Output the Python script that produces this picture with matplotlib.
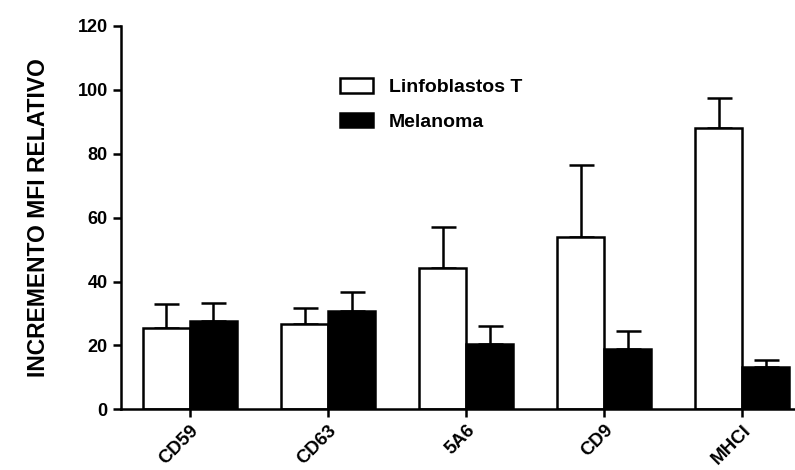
import numpy as np
import matplotlib.pyplot as plt

plt.rcParams['font.family'] = ['Liberation Sans', 'DejaVu Sans']

# datos
categorias = ['CD59', 'CD63', '5A6', 'CD9', 'MHCI']
linfoblastos = [25.5, 26.8, 44.1, 53.8, 88.0]
linfoblastos_err = [7.4, 4.9, 13.0, 22.8, 9.4]
melanoma = [27.6, 30.7, 20.5, 18.8, 13.2]
melanoma_err = [5.7, 6.1, 5.7, 5.6, 2.3]

fig = plt.figure(figsize=(7.95, 4.70), dpi=100)
ax = fig.add_axes([0.152, 0.129, 0.86, 0.816])

x = np.arange(len(categorias))
ancho = 0.34
lw = 1.8

ax.bar(x - ancho / 2, linfoblastos, ancho, color='white', edgecolor='black',
       linewidth=lw, label='Linfoblastos T', zorder=2)
ax.errorbar(x - ancho / 2, linfoblastos, yerr=[np.zeros(5), linfoblastos_err],
            fmt='none', ecolor='black', elinewidth=lw, capsize=9, capthick=lw, zorder=1)
ax.bar(x + ancho / 2, melanoma, ancho, color='black', edgecolor='black',
       linewidth=lw, label='Melanoma', zorder=2)
ax.errorbar(x + ancho / 2, melanoma, yerr=[np.zeros(5), melanoma_err],
            fmt='none', ecolor='black', elinewidth=lw, capsize=9, capthick=lw, zorder=1)

ax.set_xlim(-0.5, 4.45)
ax.set_ylim(0, 120)
ax.set_yticks(range(0, 121, 20))
ax.set_xticks(x)
ax.set_xticklabels(categorias, rotation=45, ha='right', rotation_mode='anchor',
                   fontsize=13.5, fontweight='bold')
for t in ax.get_yticklabels():
    t.set_fontsize(13)
    t.set_fontweight('bold')

ax.spines['top'].set_visible(False)
ax.spines['right'].set_visible(False)
ax.spines['left'].set_linewidth(lw)
ax.spines['bottom'].set_linewidth(lw)
ax.tick_params(axis='both', direction='out', width=lw, length=6)
ax.tick_params(axis='x', pad=3)

ax.set_ylabel('INCREMENTO MFI RELATIVO', fontsize=16.5, fontweight='bold', labelpad=20)

ax.legend(loc='upper left', bbox_to_anchor=(0.295, 0.91), frameon=False,
          prop={'size': 14, 'weight': 'bold'}, handlelength=1.7, handleheight=0.8,
          handletextpad=0.8, labelspacing=0.85)

fig.savefig('out.png', dpi=100)
